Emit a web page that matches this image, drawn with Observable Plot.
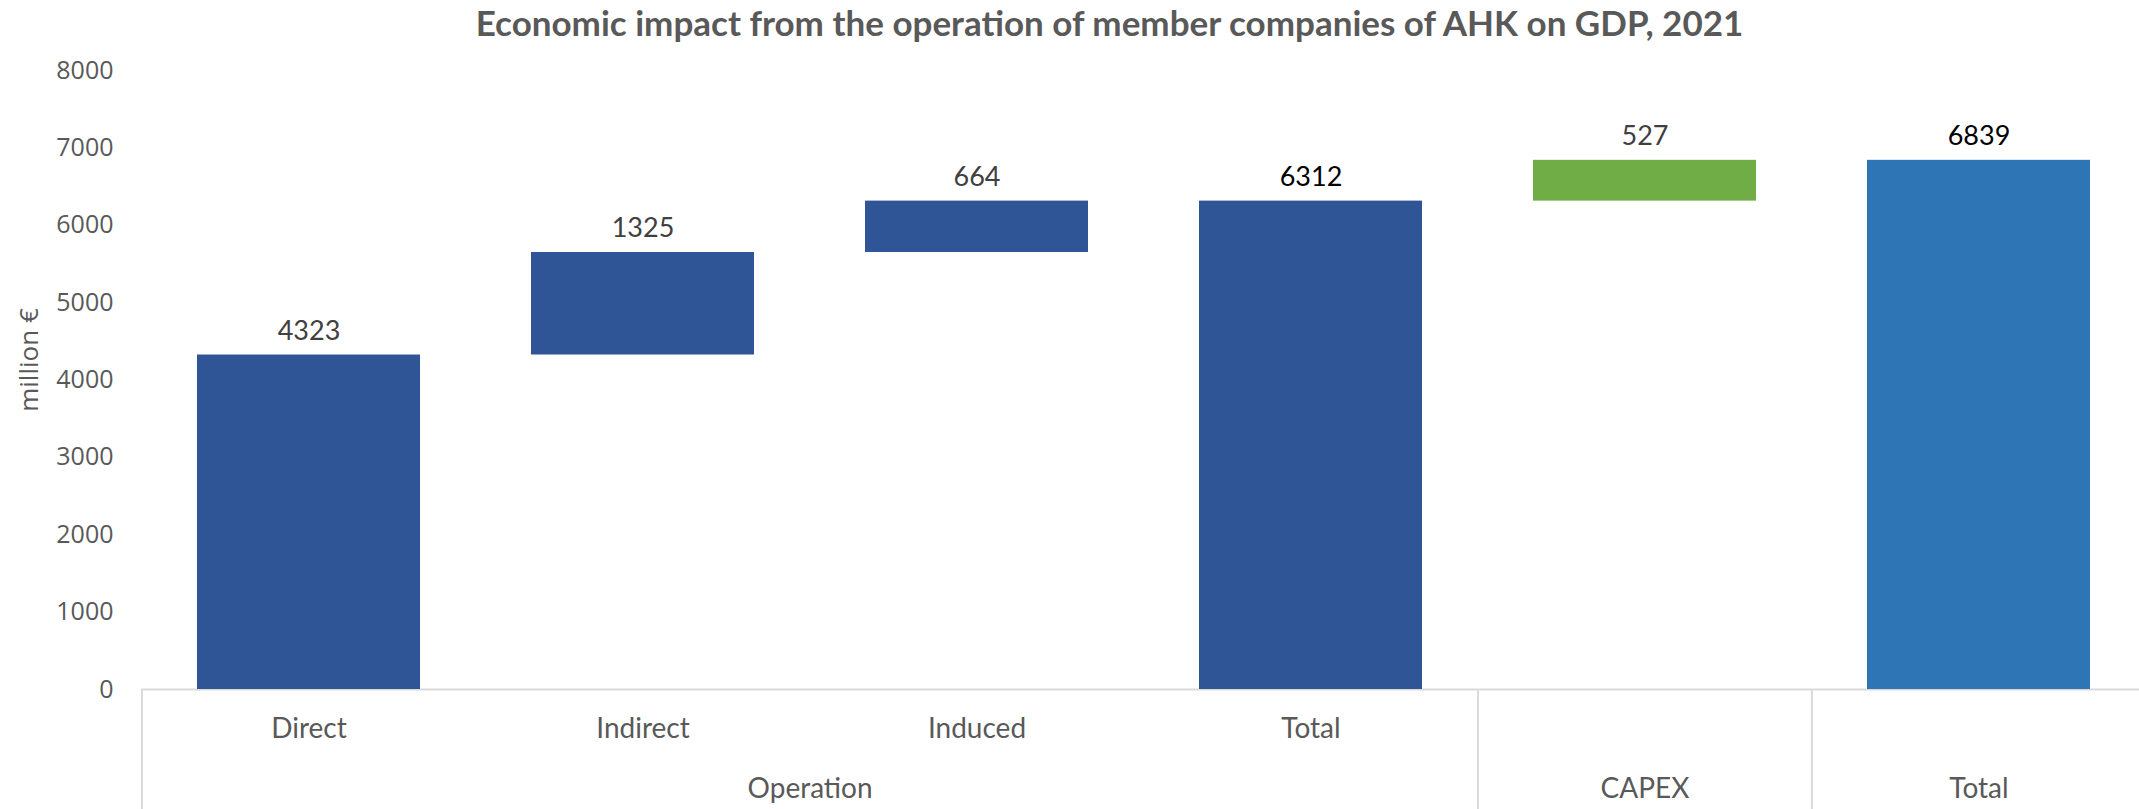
<!DOCTYPE html>
<html>
<head>
<meta charset="utf-8">
<script src="https://cdn.jsdelivr.net/npm/d3@7"></script>
<script src="https://cdn.jsdelivr.net/npm/@observablehq/plot@0.6"></script>
<style>
  body { margin: 0; background: #fff; }
  #title { height: 50px; line-height: 44px; text-align: center; padding-left: 80px; font-family: Lato, sans-serif; font-weight: bold; font-size: 35px; color: #595959; white-space: nowrap; }
</style>
</head>
<body>
<div id="title">Economic impact from the operation of member companies of AHK on GDP, 2021</div>
<div id="chart"></div>
<script>
// ---- data ----
const categoryIds = ["Direct", "Indirect", "Induced", "Total (operation)", "CAPEX", "Total (overall)"];
const categoryLabels = ["Direct", "Indirect", "Induced", "Total", "", ""];
const groups = ["Operation", "Operation", "Operation", "Operation", "CAPEX", "Total"];
const values = [4323, 1325, 664, 6312, 527, 6839];
const kinds = ["step", "step", "step", "total", "step", "total"]; // step = increment, total = from zero
const groupNames = ["Operation", "CAPEX", "Total"];
const yTicks = [0, 1000, 2000, 3000, 4000, 5000, 6000, 7000, 8000];
const yLabel = "million €";

// ---- styling ----
const groupColors = ["#2F5597", "#70AD47", "#2E75B6"];
const W = 2139, H = 759, mL = 141, mR = -7, mT = 20, mB = 120;
const step = (W - mL - mR) / categoryIds.length;

// build waterfall rows
let running = 0;
const rows = categoryIds.map((id, i) => {
  let base, top;
  if (kinds[i] === "total") { base = 0; top = values[i]; }
  else { base = running; top = running + values[i]; }
  running = top;
  return { id, label: categoryLabels[i], group: groups[i], value: values[i], kind: kinds[i], base, top };
});

const groupRows = groupNames.map(g => {
  const idx = groups.map((d, i) => d === g ? i : -1).filter(i => i >= 0);
  const first = idx[0], last = idx[idx.length - 1];
  const mid = (first + last) / 2;
  return { name: g, firstId: categoryIds[first], anchorId: categoryIds[Math.floor(mid)], offset: mid - Math.floor(mid) };
});

const labelFont = "Lato, sans-serif";
const grey = "#595959";

const chart = Plot.plot({
  width: W, height: H,
  marginLeft: mL, marginRight: mR, marginTop: mT, marginBottom: mB,
  style: { fontFamily: "'Open Sans', sans-serif", fontSize: "25px", color: grey, background: "white", overflow: "visible" },
  x: { domain: categoryIds, paddingInner: 1 / 3, paddingOuter: 1 / 6, axis: null },
  y: { domain: [0, 8000], ticks: yTicks, tickSize: 0, tickPadding: 28, tickFormat: "d", label: null },
  color: { type: "ordinal", domain: groupNames, range: groupColors },
  marks: [
    Plot.ruleY([0], { stroke: "#d9d9d9", strokeWidth: 2 }),
    Plot.ruleX(groupRows, { x: "firstId", y1: () => 0, insetBottom: -mB, dx: -step / 2, stroke: "#d9d9d9", strokeWidth: 2 }),
    Plot.barY(rows, { x: "id", y1: "base", y2: "top", fill: "group" }),
    Plot.text(rows.filter(d => d.kind !== "total"), { x: "id", y: "top", text: d => String(d.value), dy: -24, fill: "#404040", fontFamily: labelFont, fontSize: 27 }),
    Plot.text(rows.filter(d => d.kind === "total"), { x: "id", y: "top", text: d => String(d.value), dy: -24, fill: "#000000", fontFamily: labelFont, fontSize: 27 }),
    Plot.text(rows, { x: "id", text: "label", frameAnchor: "bottom", dy: 48, fill: grey, fontFamily: labelFont, fontSize: 28 }),
    ...groupRows.map(g => Plot.text([g], { x: "anchorId", text: "name", frameAnchor: "bottom", dy: 108, dx: g.offset * step, fill: grey, fontFamily: labelFont, fontSize: 28 })),
    Plot.text([yLabel], { text: d => d, frameAnchor: "left", textAnchor: "middle", rotate: -90, dx: -112, dy: -20, fill: grey, fontSize: 26 })
  ]
});
document.getElementById("chart").appendChild(chart);
</script>
</body>
</html>
